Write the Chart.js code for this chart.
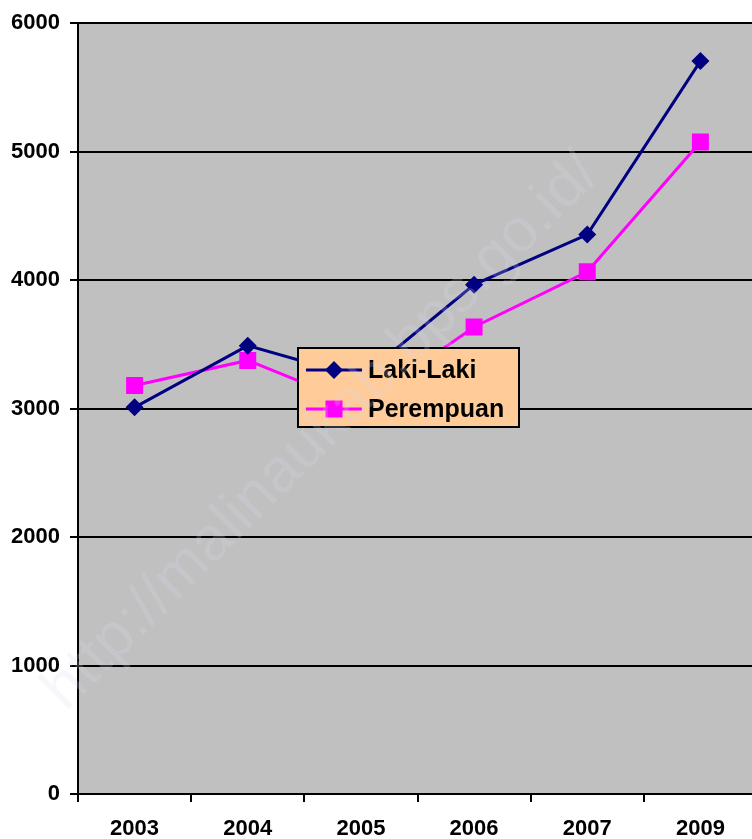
<!DOCTYPE html>
<html>
<head>
<meta charset="utf-8">
<script src="https://cdn.jsdelivr.net/npm/chart.js@4.4.1/dist/chart.umd.min.js"></script>
<style>
    body { margin: 0; overflow: hidden; background: #fff; }
    #wrap { width: 752px; height: 839px; overflow: hidden; }
</style>
</head>
<body>
<div id="wrap"><canvas id="myChart" width="769" height="839"></canvas></div>
<script>
var years = ["2003", "2004", "2005", "2006", "2007", "2009"];
var lakiLaki = [3010, 3490, 3240, 3965, 4355, 5705];
var perempuan = [3180, 3375, 3020, 3635, 4065, 5075];
var yTicks = [0, 1000, 2000, 3000, 4000, 5000, 6000];

var navy = "#000080";
var pink = "#FF00FF";

// gray plot background
var plotBg = {
    id: "plotBg",
    beforeDraw: function (chart) {
        var a = chart.chartArea;
        var ctx = chart.ctx;
        ctx.save();
        ctx.fillStyle = "#C0C0C0";
        ctx.fillRect(a.left, a.top, a.right - a.left, a.bottom - a.top);
        ctx.restore();
    }
};

function drawMarker(ctx, style, x, y, color) {
    ctx.fillStyle = color;
    ctx.beginPath();
    if (style == "rectRot") {
        ctx.moveTo(x, y - 9);
        ctx.lineTo(x + 9, y);
        ctx.lineTo(x, y + 9);
        ctx.lineTo(x - 9, y);
    } else {
        ctx.rect(x - 8.5, y - 8.5, 17, 17);
    }
    ctx.closePath();
    ctx.fill();
}

// legend box inside the plot + watermark
var boxLegend = {
    id: "boxLegend",
    afterDraw: function (chart) {
        var ctx = chart.ctx;
        ctx.save();
        ctx.fillStyle = "#FFCC99";
        ctx.fillRect(298, 348, 221, 79);
        ctx.strokeStyle = "#000";
        ctx.lineWidth = 2;
        ctx.strokeRect(298, 348, 221, 79);

        var rows = [370, 409];
        ctx.font = "bold 25px Arial, 'Liberation Sans', sans-serif";
        ctx.textBaseline = "middle";
        for (var i = 0; i < chart.data.datasets.length; i++) {
            var ds = chart.data.datasets[i];
            ctx.strokeStyle = ds.borderColor;
            ctx.lineWidth = 3;
            ctx.beginPath();
            ctx.moveTo(306, rows[i]);
            ctx.lineTo(362, rows[i]);
            ctx.stroke();
            drawMarker(ctx, ds.pointStyle, 334, rows[i], ds.borderColor);
            ctx.fillStyle = "#000";
            ctx.fillText(ds.label, 368, rows[i] + 1);
        }

        // watermark
        ctx.translate(322, 432);
        ctx.rotate(-Math.PI / 4);
        ctx.font = "62px Arial, 'Liberation Sans', sans-serif";
        ctx.textAlign = "center";
        ctx.textBaseline = "middle";
        ctx.fillStyle = "rgba(215,215,235,0.22)";
        ctx.fillText("http://malinaukab.bps.go.id/", 0, 0);
        ctx.restore();
    }
};

var ctx = document.getElementById("myChart").getContext("2d");
var myChart = new Chart(ctx, {
    type: "line",
    data: {
        labels: years,
        datasets: [
            {
                label: "Laki-Laki",
                data: lakiLaki,
                borderColor: navy,
                backgroundColor: navy,
                borderWidth: 3,
                pointStyle: "rectRot",
                pointRadius: 9,
                pointBorderWidth: 0,
                tension: 0
            },
            {
                label: "Perempuan",
                data: perempuan,
                borderColor: pink,
                backgroundColor: pink,
                borderWidth: 3,
                pointStyle: "rect",
                pointRadius: 12,
                pointBorderWidth: 0,
                tension: 0
            }
        ]
    },
    options: {
        responsive: false,
        animation: false,
        layout: { padding: { top: 22, left: 0, right: 3, bottom: 0 } },
        plugins: {
            legend: { display: false },
            tooltip: { enabled: false }
        },
        scales: {
            x: {
                offset: true,
                afterFit: function (s) { s.height = 45; },
                grid: {
                    offset: true,
                    drawOnChartArea: false,
                    drawTicks: true,
                    tickLength: 8,
                    color: "#000",
                    lineWidth: 2
                },
                border: { color: "#000", width: 2 },
                ticks: {
                    color: "#000",
                    padding: 14,
                    maxRotation: 0,
                    font: { family: "Arial, 'Liberation Sans', sans-serif", size: 22, weight: "bold" }
                }
            },
            y: {
                min: 0,
                max: 6000,
                afterFit: function (s) { s.width = 78; },
                afterBuildTicks: function (s) {
                    s.ticks = yTicks.map(function (v) { return { value: v }; });
                },
                grid: {
                    color: "#000",
                    lineWidth: 2,
                    tickLength: 8
                },
                border: { color: "#000", width: 2 },
                ticks: {
                    color: "#000",
                    padding: 10,
                    callback: function (v) { return String(v); },
                    font: { family: "Arial, 'Liberation Sans', sans-serif", size: 22, weight: "bold" }
                }
            }
        }
    },
    plugins: [plotBg, boxLegend]
});
</script>
</body>
</html>
